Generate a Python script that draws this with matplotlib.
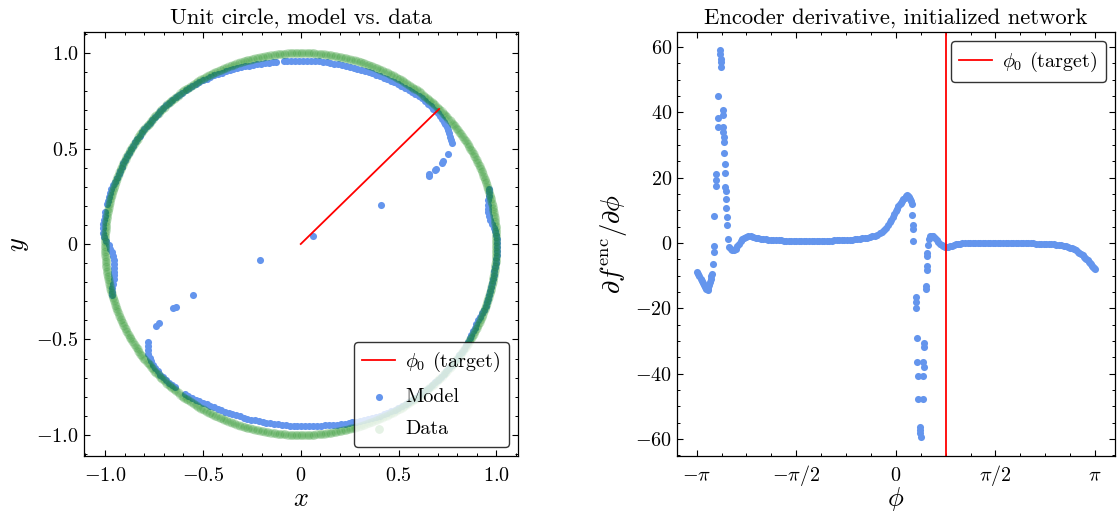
import numpy as np
import matplotlib
matplotlib.use("Agg")
import matplotlib.pyplot as plt
from matplotlib.ticker import AutoMinorLocator, MultipleLocator

plt.rcParams.update({
    "font.family": "serif",
    "font.serif": ["cmr10", "DejaVu Serif"],
    "mathtext.fontset": "cm",
    "axes.formatter.use_mathtext": True,
    "axes.unicode_minus": False,
    "axes.linewidth": 0.9,
    "xtick.direction": "in", "ytick.direction": "in",
    "xtick.top": True, "ytick.right": True,
    "xtick.major.size": 4.5, "ytick.major.size": 4.5,
    "xtick.minor.size": 2.3, "ytick.minor.size": 2.3,
    "xtick.major.width": 0.8, "ytick.major.width": 0.8,
    "xtick.minor.width": 0.7, "ytick.minor.width": 0.7,
    "xtick.minor.visible": True, "ytick.minor.visible": True,
    "xtick.major.pad": 18.0,
})

# ---------------- data ----------------
phi0 = np.pi / 4  # target angle

# Data: points on the unit circle (angle in degrees)
data_angle_deg = [
    0, 0.5, 1, 1.5, 2, 2.5, 3, 3.5, 4, 4.5, 5, 5.5, 6, 6.5, 7, 7.5, 8, 8.5, 9, 9.5,
    10, 10.5, 11, 11.5, 12, 12.5, 13, 13.5, 14, 14.5, 15, 15.5, 16, 16.5, 17, 17.5, 18, 18.5, 19, 19.5,
    20, 20.5, 21, 21.5, 22, 22.5, 23, 23.5, 24, 24.5, 25, 25.5, 26, 26.5, 27, 27.5, 28, 28.5, 29, 29.5,
    30, 30.5, 31, 31.5, 32, 32.5, 33, 33.5, 34, 34.5, 35, 35.5, 36, 36.5, 37, 37.5, 38, 38.5, 39, 39.5,
    40, 40.5, 41, 41.5, 42, 42.5, 43, 43.5, 44, 44.5, 45, 45.5, 46, 46.5, 47, 47.5, 48, 48.5, 49, 49.5,
    50, 50.5, 51, 51.5, 52, 52.5, 53, 53.5, 54, 54.5, 55, 55.5, 56, 56.5, 57, 57.5, 58, 58.5, 59, 59.5,
    60, 60.5, 61, 61.5, 62, 62.5, 63, 63.5, 64, 64.5, 65, 65.5, 66, 66.5, 67, 67.5, 68, 68.5, 69, 69.5,
    70, 70.5, 71, 71.5, 72, 72.5, 73, 73.5, 74, 74.5, 75, 75.5, 76, 76.5, 77, 77.5, 78, 78.5, 79, 79.5,
    80, 80.5, 81, 81.5, 82, 82.5, 83, 83.5, 84, 84.5, 85, 85.5, 86, 86.5, 87, 87.5, 88, 88.5, 89, 89.5,
    90, 90.5, 91, 91.5, 92, 92.5, 93, 93.5, 94, 94.5, 95, 95.5, 96, 96.5, 97, 97.5, 98, 98.5, 99, 99.5,
    100, 100.5, 101, 101.5, 102, 102.5, 103, 103.5, 104, 104.5, 105, 105.5, 106, 106.5, 107, 107.5, 108, 108.5, 109, 109.5,
    110, 110.5, 111, 111.5, 112, 112.5, 113, 113.5, 114, 114.5, 115, 115.5, 116, 116.5, 117, 117.5, 118, 118.5, 119, 119.5,
    120, 120.5, 121, 121.5, 122, 122.5, 123, 123.5, 124, 124.5, 125, 125.5, 126, 126.5, 127, 127.5, 128, 128.5, 129, 129.5,
    130, 130.5, 131, 131.5, 132, 132.5, 133, 133.5, 134, 134.5, 135, 135.5, 136, 136.5, 137, 137.5, 138, 138.5, 139, 139.5,
    140, 140.5, 141, 141.5, 142, 142.5, 143, 143.5, 144, 144.5, 145, 145.5, 146, 146.5, 147, 147.5, 148, 148.5, 149, 149.5,
    150, 150.5, 151, 151.5, 152, 152.5, 153, 153.5, 154, 154.5, 155, 155.5, 156, 156.5, 157, 157.5, 158, 158.5, 159, 159.5,
    160, 160.5, 161, 161.5, 162, 162.5, 163, 163.5, 164, 164.5, 165, 165.5, 166, 166.5, 167, 167.5, 168, 168.5, 169, 169.5,
    170, 170.5, 171, 171.5, 172, 172.5, 173, 173.5, 174, 174.5, 175, 175.5, 176, 176.5, 177, 177.5, 178, 178.5, 179, 179.5,
    180, 180.5, 181, 181.5, 182, 182.5, 183, 183.5, 184, 184.5, 185, 185.5, 186, 186.5, 187, 187.5, 188, 188.5, 189, 189.5,
    190, 190.5, 191, 191.5, 192, 192.5, 193, 193.5, 194, 194.5, 195, 195.5, 196, 196.5, 197, 197.5, 198, 198.5, 199, 199.5,
    200, 200.5, 201, 201.5, 202, 202.5, 203, 203.5, 204, 204.5, 205, 205.5, 206, 206.5, 207, 207.5, 208, 208.5, 209, 209.5,
    210, 210.5, 211, 211.5, 212, 212.5, 213, 213.5, 214, 214.5, 215, 215.5, 216, 216.5, 217, 217.5, 218, 218.5, 219, 219.5,
    220, 220.5, 221, 221.5, 222, 222.5, 223, 223.5, 224, 224.5, 225, 225.5, 226, 226.5, 227, 227.5, 228, 228.5, 229, 229.5,
    230, 230.5, 231, 231.5, 232, 232.5, 233, 233.5, 234, 234.5, 235, 235.5, 236, 236.5, 237, 237.5, 238, 238.5, 239, 239.5,
    240, 240.5, 241, 241.5, 242, 242.5, 243, 243.5, 244, 244.5, 245, 245.5, 246, 246.5, 247, 247.5, 248, 248.5, 249, 249.5,
    250, 250.5, 251, 251.5, 252, 252.5, 253, 253.5, 254, 254.5, 255, 255.5, 256, 256.5, 257, 257.5, 258, 258.5, 259, 259.5,
    260, 260.5, 261, 261.5, 262, 262.5, 263, 263.5, 264, 264.5, 265, 265.5, 266, 266.5, 267, 267.5, 268, 268.5, 269, 269.5,
    270, 270.5, 271, 271.5, 272, 272.5, 273, 273.5, 274, 274.5, 275, 275.5, 276, 276.5, 277, 277.5, 278, 278.5, 279, 279.5,
    280, 280.5, 281, 281.5, 282, 282.5, 283, 283.5, 284, 284.5, 285, 285.5, 286, 286.5, 287, 287.5, 288, 288.5, 289, 289.5,
    290, 290.5, 291, 291.5, 292, 292.5, 293, 293.5, 294, 294.5, 295, 295.5, 296, 296.5, 297, 297.5, 298, 298.5, 299, 299.5,
    300, 300.5, 301, 301.5, 302, 302.5, 303, 303.5, 304, 304.5, 305, 305.5, 306, 306.5, 307, 307.5, 308, 308.5, 309, 309.5,
    310, 310.5, 311, 311.5, 312, 312.5, 313, 313.5, 314, 314.5, 315, 315.5, 316, 316.5, 317, 317.5, 318, 318.5, 319, 319.5,
    320, 320.5, 321, 321.5, 322, 322.5, 323, 323.5, 324, 324.5, 325, 325.5, 326, 326.5, 327, 327.5, 328, 328.5, 329, 329.5,
    330, 330.5, 331, 331.5, 332, 332.5, 333, 333.5, 334, 334.5, 335, 335.5, 336, 336.5, 337, 337.5, 338, 338.5, 339, 339.5,
    340, 340.5, 341, 341.5, 342, 342.5, 343, 343.5, 344, 344.5, 345, 345.5, 346, 346.5, 347, 347.5, 348, 348.5, 349, 349.5,
    350, 350.5, 351, 351.5, 352, 352.5, 353, 353.5, 354, 354.5, 355, 355.5, 356, 356.5, 357, 357.5, 358, 358.5, 359, 359.5,
]

# Model output on the plane, polar form: angle (deg) and radius
model_angle_deg = [
    # upper arc
    34.3, 35.3, 36.3, 37.3, 38.3, 39.3, 40.3, 41.3, 42.3, 43.3, 44.3, 45.3, 46.3, 47.3,
    48.5, 49.7, 50.9, 52.1, 53.3, 54.5, 55.7, 56.9, 58.1, 59.3, 60.5, 61.7, 62.9, 64.1,
    65.3, 66.5, 67.7, 68.9, 70.1, 71.3, 72.5, 73.7, 74.9, 76.1, 77.3, 78.5, 79.7, 80.9,
    82.1, 83.3, 84.5, 85.7, 86.9, 88.1, 89.3, 90.5, 91.7, 92.9, 94.1, 95.0, 97.4, 98.6,
    99.8, 101.0, 102.2, 103.4, 104.6, 105.8, 107.0, 108.2, 109.4, 110.6, 111.8, 113.0,
    114.2, 115.4, 116.6, 117.8, 119.0, 120.2, 121.4, 122.6, 123.8, 125.0, 126.2, 127.4,
    128.6, 129.8, 131.0, 132.2, 133.4, 134.6, 135.8, 137.0, 138.2, 139.4, 140.6, 141.8,
    143.0, 144.2, 145.4, 146.6, 147.8, 149.0, 150.2, 151.4, 152.6, 153.8, 155.0, 156.2,
    157.4, 158.6, 159.8, 161.0, 162.2, 163.4, 164.6, 165.8, 167.0, 168.2, 170.6, 171.8,
    173.0, 174.2, 175.4, 176.6, 177.8, 179.0, 180.2, 181.4, 182.6, 183.8, 185.0, 186.2,
    187.4, 188.6, 189.8, 191.0, 192.2, 193.4, 194.6, 195.6,
    # lower arc
    213.4, 214.4, 215.4, 216.4, 217.6, 218.8, 220.0, 221.2, 222.4, 223.6, 224.8, 226.0,
    227.2, 228.4, 229.4, 233.0, 234.2, 235.4, 236.6, 237.8, 239.0, 240.2, 241.4, 242.6,
    243.8, 245.0, 246.2, 247.4, 248.6, 249.8, 251.0, 252.2, 253.4, 254.6, 255.8, 257.0,
    258.2, 259.4, 260.6, 261.8, 263.0, 264.2, 265.4, 266.6, 267.8, 269.0, 270.2, 271.4,
    272.6, 273.8, 275.0, 276.2, 277.4, 278.6, 279.8, 281.0, 282.2, 283.4, 284.6, 285.8,
    287.0, 288.2, 289.4, 290.6, 291.8, 293.0, 294.2, 295.4, 296.6, 297.8, 299.0, 300.2,
    301.4, 302.6, 303.8, 305.0, 306.2, 307.4, 308.6, 309.8, 311.0, 312.2, 313.4, 314.6,
    315.8, 317.0, 318.2, 319.4, 320.6, 321.8, 323.0, 324.2, 325.4, 326.6, 327.8, 329.0,
    330.2, 331.4, 332.6, 333.8, 335.0, 336.2, 337.4, 338.6, 339.8, 341.0, 342.2, 343.4,
    344.6, 345.8, 347.0, 348.2, 349.4, 350.6, 351.8, 353.0, 354.2, 355.4, 356.6, 357.8,
    359.0, 0.2, 1.4, 2.6, 3.8, 5.0, 6.2, 7.4, 8.6, 9.8, 11.0, 12.2, 13.4, 14.6, 15.8, 16.7,
    # isolated points crossing the interior
    33.0, 26.4, 28.5, 29.0, 29.3, 29.6, 30.5, 30.9, 31.9,
    201.2, 205.6, 207.4, 207.4, 209.6, 210.3,
]
model_radius = [
    0.934, 0.941, 0.948, 0.955, 0.960, 0.964, 0.968, 0.971, 0.974, 0.977, 0.979, 0.980, 0.981, 0.981,
    0.982, 0.982, 0.982, 0.981, 0.980, 0.979, 0.977, 0.976, 0.974, 0.973, 0.972, 0.970, 0.969, 0.968,
    0.967, 0.966, 0.965, 0.964, 0.963, 0.962, 0.962, 0.961, 0.961, 0.960, 0.960, 0.960, 0.960, 0.960,
    0.960, 0.960, 0.960, 0.960, 0.960, 0.960, 0.960, 0.960, 0.960, 0.960, 0.960, 0.961, 0.962, 0.963,
    0.964, 0.965, 0.966, 0.967, 0.969, 0.971, 0.972, 0.974, 0.976, 0.978, 0.980, 0.982,
    0.984, 0.985, 0.987, 0.989, 0.990, 0.992, 0.993, 0.994, 0.995, 0.996, 0.997, 0.998,
    0.998, 0.999, 1.000, 1.000, 1.000, 1.000, 1.000, 1.000, 1.000, 1.000, 1.000, 1.000,
    1.000, 1.000, 1.000, 1.000, 1.000, 1.000, 1.000, 1.000, 1.000, 1.000, 1.000, 1.000,
    1.000, 1.000, 1.000, 1.004, 1.008, 1.010, 1.012, 1.012, 1.012, 1.012, 1.012, 1.013,
    1.013, 1.013, 1.012, 1.010, 1.004, 0.993, 0.982, 0.973, 0.966, 0.962, 0.960, 0.960,
    0.961, 0.963, 0.967, 0.973, 0.981, 0.990, 0.997, 1.000,
    0.933, 0.945, 0.957, 0.967, 0.975, 0.981, 0.985, 0.988, 0.990, 0.991, 0.991, 0.990,
    0.989, 0.988, 0.987, 0.985, 0.982, 0.979, 0.976, 0.973, 0.970, 0.967, 0.965, 0.963,
    0.961, 0.960, 0.959, 0.958, 0.957, 0.956, 0.955, 0.955, 0.954, 0.954, 0.953, 0.953,
    0.952, 0.952, 0.952, 0.952, 0.952, 0.952, 0.952, 0.952, 0.953, 0.953, 0.954, 0.954,
    0.955, 0.955, 0.956, 0.957, 0.958, 0.960, 0.961, 0.963, 0.965, 0.967, 0.969, 0.971,
    0.973, 0.975, 0.977, 0.979, 0.981, 0.983, 0.985, 0.987, 0.989, 0.990, 0.991, 0.992,
    0.993, 0.994, 0.995, 0.995, 0.996, 0.996, 0.997, 0.997, 0.997, 0.998, 0.998, 0.998,
    0.998, 0.998, 0.998, 0.998, 0.998, 0.998, 0.998, 0.998, 0.998, 0.997, 0.996, 0.995,
    0.994, 0.993, 0.992, 0.991, 0.990, 0.990, 0.992, 0.995, 0.998, 1.000, 1.000, 1.000,
    1.000, 1.000, 1.000, 1.000, 1.000, 1.000, 1.000, 1.001, 1.002, 1.003, 1.004, 1.005,
    1.005, 1.005, 1.004, 1.000, 0.995, 0.989, 0.982, 0.977, 0.973, 0.972, 0.973, 0.977, 0.984, 0.992, 1.000, 1.006,
    0.077, 0.459, 0.743, 0.752, 0.788, 0.796, 0.836, 0.845, 0.889,
    0.226, 0.612, 0.718, 0.733, 0.834, 0.854,
]

# Encoder derivative vs input angle phi (rad)
deriv_phi = [
    -3.137, -3.118, -3.099, -3.080, -3.061, -3.042, -3.023, -3.004, -2.986, -2.969,
    -2.957, -2.945, -2.933, -2.921, -2.909, -2.898,
    -2.889, -2.875, -2.873, -2.865, -2.840, -2.843, -2.838, -2.812, -2.812, -2.802,
    -2.771, -2.766, -2.762, -2.755, -2.752, -2.733, -2.728, -2.720, -2.718, -2.712,
    -2.710, -2.706, -2.697, -2.697, -2.690, -2.681, -2.681, -2.676, -2.666, -2.663, -2.645,
    -2.629, -2.600, -2.576, -2.550, -2.524, -2.498, -2.472, -2.445, -2.419, -2.393,
    -2.367, -2.330, -2.289, -2.250, -2.210, -2.170, -2.130, -2.090, -2.050, -2.010,
    -1.970, -1.930, -1.890, -1.850, -1.810, -1.770, -1.730, -1.690, -1.650, -1.610,
    -1.570, -1.530, -1.490, -1.450, -1.410, -1.370, -1.330, -1.290, -1.250, -1.210,
    -1.170, -1.130, -1.090, -1.050, -1.010, -0.970, -0.930, -0.890, -0.850, -0.810,
    -0.770, -0.730, -0.690, -0.650, -0.610, -0.570, -0.530, -0.490, -0.450, -0.410,
    -0.370, -0.330, -0.290, -0.250, -0.220, -0.190, -0.160, -0.130, -0.100, -0.075,
    -0.050, -0.025, 0.000, 0.020, 0.040, 0.060, 0.080, 0.100, 0.120, 0.140, 0.160,
    0.175, 0.190, 0.205, 0.218, 0.232, 0.251,
    0.251, 0.267, 0.277, 0.277,
    0.319, 0.319, 0.321, 0.330, 0.340, 0.345, 0.355, 0.382, 0.385, 0.388, 0.391,
    0.424, 0.434, 0.434, 0.445, 0.445, 0.445, 0.476, 0.476, 0.487, 0.487, 0.497, 0.497, 0.513,
    0.528, 0.545, 0.565, 0.590, 0.617, 0.643, 0.669, 0.695, 0.720, 0.748, 0.775, 0.801,
    0.830, 0.860, 0.890, 0.920, 0.950, 0.980, 1.010, 1.050, 1.090, 1.130, 1.170, 1.210,
    1.250, 1.290, 1.330, 1.370, 1.410, 1.450, 1.490, 1.530, 1.570, 1.610, 1.650, 1.690,
    1.730, 1.770, 1.810, 1.850, 1.890, 1.930, 1.970, 2.010, 2.050, 2.090, 2.130, 2.170,
    2.210, 2.250, 2.290, 2.330, 2.370, 2.410, 2.450, 2.490, 2.530, 2.570, 2.610, 2.650,
    2.690, 2.720, 2.750, 2.780, 2.810, 2.840, 2.870, 2.895, 2.920, 2.945, 2.965, 2.985,
    3.005, 3.025, 3.045, 3.060, 3.075, 3.090, 3.105, 3.120, 3.135,
]
deriv_value = [
    -8.9, -9.5, -10.2, -10.9, -11.6, -12.3, -13.0, -13.6, -14.1, -14.3,
    -13.7, -12.8, -11.9, -11.0, -10.2, -9.4,
    -6.3, -2.6, -1.0, 8.3, 17.6, 19.2, 21.0, 35.5, 38.2, 45.1,
    59.0, 58.0, 56.4, 55.4, 53.9, 40.7, 39.2, 35.5, 34.0, 32.5,
    31.0, 27.7, 24.3, 21.4, 17.3, 15.8, 13.4, 10.6, 8.1, 5.6, 1.1,
    -1.2, -1.9, -2.2, -2.1, -1.7, -1.0, -0.2, 0.5, 1.1, 1.5,
    1.8, 2.0, 2.0, 1.85, 1.65, 1.45, 1.3, 1.2, 1.1, 1.0,
    0.95, 0.9, 0.85, 0.82, 0.8, 0.75, 0.72, 0.7, 0.68, 0.65,
    0.63, 0.62, 0.6, 0.6, 0.6, 0.6, 0.6, 0.6, 0.62, 0.63,
    0.65, 0.67, 0.7, 0.72, 0.75, 0.78, 0.8, 0.83, 0.87, 0.9,
    0.95, 1.0, 1.05, 1.1, 1.2, 1.3, 1.4, 1.5, 1.65, 1.8,
    2.0, 2.3, 2.6, 3.0, 3.4, 3.9, 4.6, 5.4, 6.3, 7.2,
    8.0, 8.9, 9.8, 10.5, 11.2, 11.8, 12.4, 12.9, 13.4, 13.9, 14.3,
    14.6, 14.5, 14.0, 13.5, 12.8, 12.0,
    8.5, 5.4, 4.4, 0.5,
    -16.5, -18.2, -19.9, -29.1, -36.4, -40.8, -47.6, -56.3, -57.3, -58.3, -59.3,
    -47.6, -40.8, -36.4, -37.9, -30.5, -31.8, -14.0, -13.1, -8.4, -7.0, -4.0, -3.0, -0.5,
    1.3, 2.0, 2.3, 2.0, 1.5, 0.9, 0.3, -0.2, -0.6, -0.9, -1.1, -1.2,
    -1.1, -0.95, -0.8, -0.6, -0.45, -0.3, -0.15, -0.05, 0.0, 0.05, 0.1, 0.12,
    0.15, 0.15, 0.15, 0.15, 0.15, 0.15, 0.14, 0.13, 0.12, 0.1, 0.1, 0.08,
    0.07, 0.05, 0.04, 0.03, 0.02, 0.0, -0.02, -0.04, -0.06, -0.08, -0.1, -0.12,
    -0.15, -0.18, -0.22, -0.27, -0.32, -0.36, -0.4, -0.45, -0.5, -0.56, -0.63, -0.78,
    -0.98, -1.18, -1.4, -1.62, -1.9, -2.25, -2.65, -3.0, -3.4, -3.8, -4.2, -4.6,
    -5.0, -5.35, -5.7, -6.1, -6.5, -6.9, -7.3, -7.7, -8.0,
]

xticks_left = [-1.0, -0.5, 0.0, 0.5, 1.0]
xticklabels_left = ["$-1.0$", "$-0.5$", "$0$", "$0.5$", "$1.0$"]
yticks_left = [-1.0, -0.5, 0.0, 0.5, 1.0]
yticklabels_left = ["$-1.0$", "$-0.5$", "$0$", "$0.5$", "$1.0$"]
xticks_right = [-np.pi, -np.pi / 2, 0.0, np.pi / 2, np.pi]
xticklabels_right = [r"$-\pi$", r"$-\pi/2$", "$0$", r"$\pi/2$", r"$\pi$"]
yticks_right = [-60, -40, -20, 0, 20, 40, 60]
yticklabels_right = ["$-60$", "$-40$", "$-20$", "$0$", "$20$", "$40$", "$60$"]

# ---------------- figure ----------------
BLUE = "cornflowerblue"
GREEN = "green"
TICK_FS = 14.5
LABEL_FS = 19
TITLE_FS = 16.3
LEG_FS = 14.5
LEG_KW = dict(fontsize=LEG_FS, frameon=True, edgecolor="black", fancybox=True,
              handlelength=1.64, handletextpad=0.5, labelspacing=0.7,
              borderpad=0.4, borderaxespad=0.47)

fig = plt.figure(figsize=(11.17, 5.18), dpi=100)
ax1 = fig.add_axes([83.5 / 1117, 62 / 518, 434.5 / 1117, 424 / 518])
ax2 = fig.add_axes([676.7 / 1117, 62 / 518, 438.3 / 1117, 424 / 518])

# Left: unit circle
ma = np.deg2rad(np.array(model_angle_deg))
mr = np.array(model_radius)
da = np.deg2rad(np.array(data_angle_deg))

ax1.plot([0, np.cos(phi0)], [0, np.sin(phi0)], color="red", lw=1.3,
         label=r"$\phi_0$ (target)")
ax1.scatter(mr * np.cos(ma), mr * np.sin(ma), s=26, color=BLUE, linewidths=0,
            label="Model")
ax1.scatter(np.cos(da), np.sin(da), s=40, color=GREEN, alpha=0.15, linewidths=0,
            label="Data")
ax1.set_xlim(-1.11, 1.11)
ax1.set_ylim(-1.11, 1.11)
ax1.set_xticks(xticks_left)
ax1.set_xticklabels(xticklabels_left, fontsize=TICK_FS)
ax1.set_yticks(yticks_left)
ax1.set_yticklabels(yticklabels_left, fontsize=TICK_FS)
ax1.xaxis.set_minor_locator(AutoMinorLocator(5))
ax1.yaxis.set_minor_locator(AutoMinorLocator(5))
ax1.set_xlabel("$x$", fontsize=LABEL_FS)
ax1.set_ylabel("$y$", fontsize=LABEL_FS)
ax1.set_title("Unit circle, model vs. data", fontsize=TITLE_FS)
leg1 = ax1.legend(loc="lower right", **LEG_KW)
leg1.legend_handles[2].set_alpha(0.1)

# Right: encoder derivative
ax2.scatter(deriv_phi, deriv_value, s=26, color=BLUE, linewidths=0)
ax2.axvline(phi0, color="red", lw=1.3, label=r"$\phi_0$ (target)")
ax2.set_xlim(-1.1 * np.pi, 1.1 * np.pi)
ax2.set_ylim(-65.2, 64.6)
ax2.set_xticks(xticks_right)
ax2.set_xticklabels(xticklabels_right, fontsize=TICK_FS)
ax2.set_yticks(yticks_right)
ax2.set_yticklabels(yticklabels_right, fontsize=TICK_FS)
ax2.xaxis.set_minor_locator(MultipleLocator(np.pi / 8))
ax2.yaxis.set_minor_locator(AutoMinorLocator(4))
ax2.set_xlabel(r"$\phi$", fontsize=LABEL_FS)
ax2.set_ylabel(r"$\partial f^{\mathrm{enc}}/\partial \phi$", fontsize=LABEL_FS)
ax2.set_title("Encoder derivative, initialized network", fontsize=TITLE_FS)
ax2.legend(loc="upper right", **LEG_KW)

for ax in (ax1, ax2):
    ax.tick_params(which="both", labelsize=TICK_FS)
    for lbl in ax.get_xticklabels():
        lbl.set_verticalalignment("baseline")
    ax.xaxis.label.set_verticalalignment("baseline")
    ax.xaxis.set_label_coords(0.5, -0.118)

fig.savefig("out.png", dpi=100)
